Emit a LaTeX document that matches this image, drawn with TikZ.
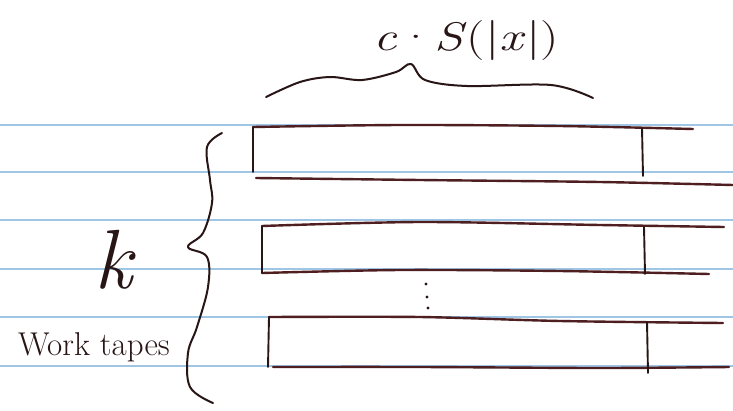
\documentclass[tikz,border=0pt]{standalone}
\usepackage{fontspec}
\usepackage{graphicx}
\definecolor{ink}{RGB}{78,30,32}
\definecolor{inkdark}{RGB}{40,22,22}
\definecolor{rule}{RGB}{160,198,230}
\tikzset{
  paperrule/.style={draw=rule, line width=1.6pt},
  tapeline/.style={draw=ink, line width=2.4pt, line cap=round},
  tapeend/.style={draw=inkdark, line width=1.9pt, line cap=round},
  bracestroke/.style={draw=inkdark, line width=2pt, line cap=round, line join=round},
  hand/.style={text=inkdark, inner sep=0pt},
}
\begin{document}
\begin{tikzpicture}[x=1pt,y=-1pt]
\useasboundingbox[fill=white] (0,0) rectangle (733,410);
% ruled paper
\foreach \yy in {125,172,220,269,317,366}
  \draw[paperrule] (0,\yy) -- (733,\yy);
% tape 1
\coordinate (t1tl) at (253,127);
\coordinate (t1tr) at (693,129);
\coordinate (t1bl) at (256,178);
\coordinate (t1br) at (733,185);
\draw[tapeline] plot[smooth] coordinates {(t1tl) (400,125) (560,126) (t1tr)};
\draw[tapeline] plot[smooth] coordinates {(t1bl) (420,180) (600,182) (t1br)};
\draw[tapeend] (t1tl) -- (253,172);
\draw[tapeend] (642,128) -- (643,176);
% tape 2
\coordinate (t2tl) at (262,226);
\coordinate (t2tr) at (724,227);
\coordinate (t2bl) at (262,273);
\coordinate (t2br) at (709,274);
\draw[tapeline] plot[smooth] coordinates {(t2tl) (420,222) (600,225) (t2tr)};
\draw[tapeline] plot[smooth] coordinates {(t2bl) (400,270) (560,271) (t2br)};
\draw[tapeend] (t2tl) -- (t2bl);
\draw[tapeend] (644,227) -- (645,274);
% dots
\foreach \yy/\xx in {284/426, 297/427, 308/428}
  \fill[inkdark] (\xx,\yy) circle (1.6pt);
% tape 3
\coordinate (t3tl) at (269,317);
\coordinate (t3tr) at (723,323);
\coordinate (t3bl) at (273,367);
\coordinate (t3br) at (729,367);
\draw[tapeline] plot[smooth] coordinates {(t3tl) (420,317) (560,321) (t3tr)};
\draw[tapeline] plot[smooth] coordinates {(t3bl) (420,367) (600,368) (t3br)};
\draw[tapeend] (t3tl) -- (268,367);
\draw[tapeend] (647,322) -- (648,373);
% left brace
\draw[bracestroke] plot[smooth, tension=0.6] coordinates {(222,133) (207,147) (210,180) (212,203) (203,233) (188,247) (207,257) (208,287) (197,327) (188,353) (190,387) (213,403)};
% top brace
\draw[bracestroke] plot[smooth, tension=0.55] coordinates {(266,97) (300,82) (330,77) (362,80) (396,72) (411,64) (425,80) (467,86) (551,85) (593,98)};
% labels
\node[hand, font=\fontsize{40}{40}\selectfont] (cs) at (466,40) {\scalebox{1.3}[1]{\textit{c}·\textit{S}(|\textit{x}|)}};
\node[hand, font=\fontsize{84}{84}\selectfont\itshape] (k) at (113,260) {k};
\node[hand, font=\fontsize{33}{33}\selectfont, anchor=base] (wt) at (94,355) {Work tapes};
\end{tikzpicture}
\end{document}
